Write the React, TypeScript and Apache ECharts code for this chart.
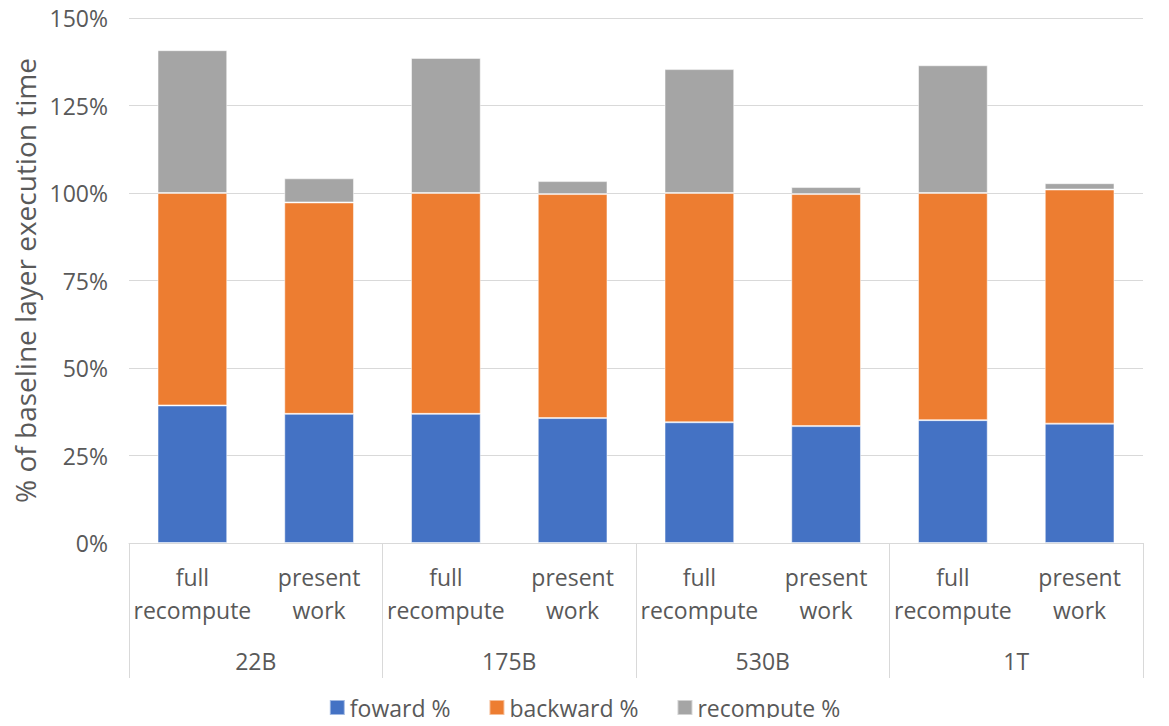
import React, { useEffect, useRef } from "react";
import * as echarts from "echarts";

const categories = [
  "full\nrecompute", "present\nwork",
  "full\nrecompute", "present\nwork",
  "full\nrecompute", "present\nwork",
  "full\nrecompute", "present\nwork",
];
const groups = ["22B", "175B", "530B", "1T"];
const forward = [39.3, 36.9, 36.9, 35.7, 34.5, 33.4, 35.1, 34.1];
const backward = [60.7, 60.4, 63.1, 64.0, 65.5, 66.3, 64.9, 66.9];
const recompute = [40.8, 6.9, 38.6, 3.7, 35.4, 2.0, 36.5, 1.8];
const yTicks = [0, 25, 50, 75, 100, 125, 150];

const FONT = "'Open Sans', 'Noto Sans', sans-serif";
const TXT = "#595959";
const LINE = "#d9d9d9";

export default function App() {
  const ref = useRef<HTMLDivElement>(null);
  useEffect(() => {
    if (!ref.current) return;
    const chart = echarts.init(ref.current, undefined, { renderer: "svg" });
    const barStyle = (color: string) => ({
      color,
      borderColor: "rgba(255,255,255,0.5)",
      borderWidth: 1,
    });
    chart.setOption({
      animation: false,
      textStyle: { fontFamily: FONT },
      grid: { left: 129, right: 26, top: 18, bottom: 183, containLabel: false },
      legend: {
        bottom: 2,
        left: "center",
        icon: "rect",
        itemWidth: 15,
        itemHeight: 15,
        itemGap: 38,
        textStyle: { color: TXT, fontSize: 23, fontFamily: FONT },
        data: ["foward %", "backward %", "recompute %"],
      },
      xAxis: [
        {
          type: "category",
          data: categories,
          axisLine: { show: true, lineStyle: { color: LINE, width: 1 } },
          axisTick: {
            show: true,
            length: 135,
            interval: (i: number) => i % 2 === 0,
            lineStyle: { color: LINE, width: 1 },
          },
          axisLabel: {
            color: TXT,
            fontSize: 23,
            lineHeight: 33,
            margin: 17,
            interval: 0,
            fontFamily: FONT,
          },
        },
        {
          type: "category",
          data: groups,
          position: "bottom",
          axisLine: { show: false },
          axisTick: { show: false },
          axisLabel: {
            color: TXT,
            fontSize: 23,
            margin: 106,
            interval: 0,
            fontFamily: FONT,
          },
        },
      ],
      yAxis: {
        type: "value",
        min: yTicks[0],
        max: yTicks[yTicks.length - 1],
        interval: 25,
        name: "% of baseline layer execution time",
        nameLocation: "middle",
        nameGap: 73,
        nameTextStyle: { color: TXT, fontSize: 28, fontFamily: FONT },
        axisLine: { show: false },
        axisTick: { show: false },
        splitLine: { lineStyle: { color: LINE, width: 1 } },
        axisLabel: {
          color: TXT,
          fontSize: 23,
          margin: 21,
          formatter: "{value}%",
          fontFamily: FONT,
        },
      },
      series: [
        {
          name: "foward %",
          type: "bar",
          stack: "t",
          barWidth: "55%",
          data: forward,
          itemStyle: barStyle("#4472C4"),
        },
        {
          name: "backward %",
          type: "bar",
          stack: "t",
          barWidth: "55%",
          data: backward,
          itemStyle: barStyle("#ED7D31"),
        },
        {
          name: "recompute %",
          type: "bar",
          stack: "t",
          barWidth: "55%",
          data: recompute,
          itemStyle: barStyle("#A5A5A5"),
        },
      ],
    });
    return () => chart.dispose();
  }, []);
  return <div ref={ref} style={{ width: 1169, height: 726, margin: -8 }} />;
}
